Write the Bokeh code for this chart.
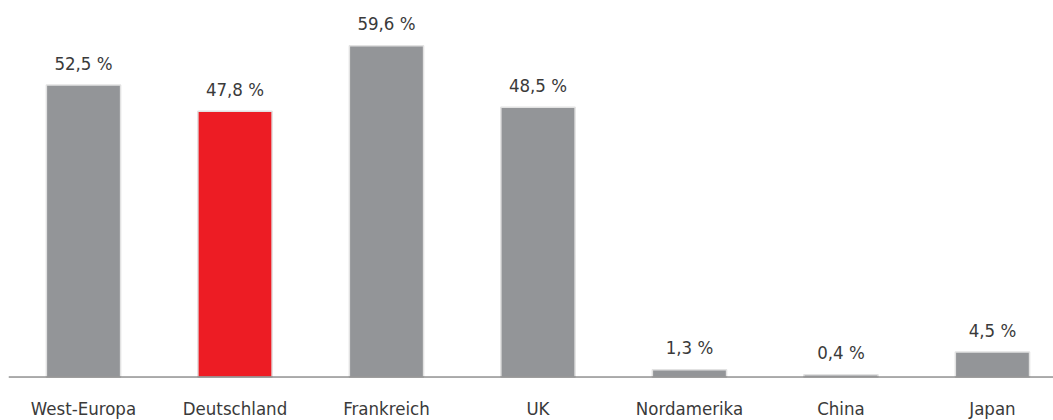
from bokeh.plotting import figure
from bokeh.models import ColumnDataSource, Range1d, Span
from bokeh.embed import file_html
from bokeh.resources import INLINE
from bokeh.core.properties import value

categories = ["West-Europa", "Deutschland", "Frankreich", "UK", "Nordamerika", "China", "Japan"]
values = [52.5, 47.8, 59.6, 48.5, 1.3, 0.4, 4.5]
value_labels = ["52,5 %", "47,8 %", "59,6 %", "48,5 %", "1,3 %", "0,4 %", "4,5 %"]
highlight = "Deutschland"

GRAY = "#939598"
RED = "#ed1c24"
FONT = "DejaVu Sans Condensed, Roboto"
TXT = "#3a3a3a"

xs = list(range(len(categories)))
colors = [RED if c == highlight else GRAY for c in categories]
src = ColumnDataSource(dict(x=xs, top=values, zero=[0] * len(xs), color=colors,
                            label=value_labels, cat=categories))

p = figure(width=1053, height=420, output_backend="svg", toolbar_location=None,
           x_range=Range1d(-0.495, 6.403), y_range=Range1d(-7.82, 67.72),
           min_border_left=8, min_border_right=0, min_border_top=0, min_border_bottom=0)
p.outline_line_color = None
p.grid.visible = False
p.xaxis.visible = False
p.yaxis.visible = False
p.background_fill_color = None
p.border_fill_color = None

p.vbar(x="x", top="top", width=0.49, bottom=0, source=src, fill_color="color",
       line_color="#e2e2e2", line_width=1.5)

p.add_layout(Span(location=0, dimension="width", line_color="#5a5a5a", line_width=1))

p.text(x="x", y="top", text="label", source=src, text_align="center", text_baseline="middle",
       y_offset=-22, text_font=value(FONT), text_font_size="18.5px", text_color=TXT)

p.text(x="x", y="zero", text="cat", source=src, text_align="center", text_baseline="middle",
       y_offset=31, text_font=value(FONT), text_font_size="18.5px", text_color=TXT)

open("out.html", "w").write(file_html(p, INLINE))
